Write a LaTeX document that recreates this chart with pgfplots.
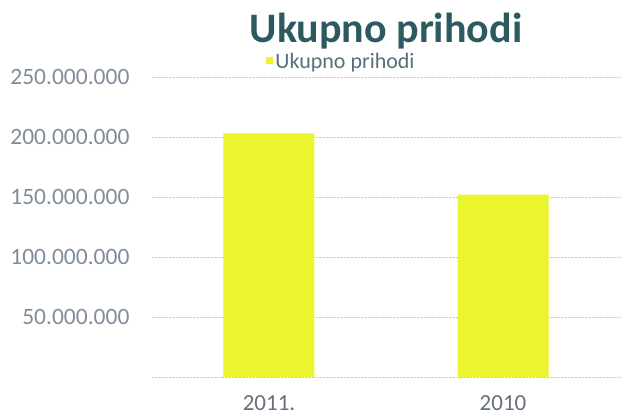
\documentclass[border=0pt]{standalone}
\usepackage{pgfplots}
\pgfplotsset{compat=1.18}
\usepackage{fontspec}
\setmainfont{Carlito}
\definecolor{barcol}{HTML}{EBF52E}
\definecolor{ticktxt}{HTML}{7F8C99}
\definecolor{titlecol}{HTML}{2C5A60}
\definecolor{legtxt}{HTML}{557078}
\begin{document}
\begin{tikzpicture}[x=1pt,y=1pt]
\useasboundingbox (0,0) rectangle (622,417);
\begin{axis}[
  at={(152pt,40pt)}, anchor=south west,
  scale only axis, width=468pt, height=300pt,
  xmin=-0.5, xmax=1.5, ymin=0, ymax=250000000,
  axis line style={draw=none},
  major tick length=0pt,
  xtick={0,1}, xticklabels={2011.,2010},
  ytick={50000000,100000000,150000000,200000000,250000000},
  yticklabels={50.000.000,100.000.000,150.000.000,200.000.000,250.000.000},
  extra y ticks={0}, extra y tick labels={},
  extra y tick style={grid=major},
  scaled y ticks=false,
  ymajorgrids, grid style={densely dotted, color=gray!40, line width=0.6pt},
  yticklabel style={font=\fontsize{23.5}{23.5}\selectfont, color=ticktxt, xshift=-19pt},
  xticklabel style={font=\fontsize{23}{23}\selectfont, color=ticktxt!80!black, yshift=-15pt},
  title={\bfseries Ukupno prihodi},
  title style={font=\fontsize{42}{42}\selectfont, color=titlecol, at={(0.5,1.0)}, anchor=south, yshift=21pt, inner sep=1pt},
  legend style={draw=none, fill=none, at={(0.405,1.052)}, anchor=center,
    font=\fontsize{22}{22}\selectfont, text=legtxt, inner sep=0pt},
  ybar, bar width=91pt,
]
\addplot[fill=barcol, draw=none,
  legend image code/.code={\fill[barcol] (0pt,-3pt) rectangle (7pt,4pt);}]
  coordinates {(0,203000000) (1,152000000)};
\addlegendentry{Ukupno prihodi}
\end{axis}
\end{tikzpicture}
\end{document}
